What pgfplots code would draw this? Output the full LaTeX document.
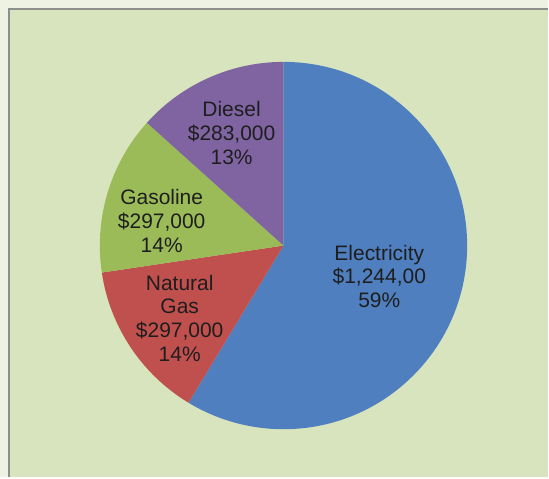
\documentclass[border=0pt]{standalone}
\usepackage{fontspec}
\setmainfont{Liberation Sans}
\usepackage{pgfplots}
\pgfplotsset{compat=1.18}
\usepackage{pgfplotstable}

\definecolor{bg}{HTML}{D8E4BE}
\definecolor{outerc}{HTML}{EDF2E3}
\definecolor{framec}{HTML}{8E8E8E}
\definecolor{elec}{HTML}{4F7FBF}
\definecolor{ngas}{HTML}{C0504D}
\definecolor{gasol}{HTML}{9BBB59}
\definecolor{diesel}{HTML}{8064A2}
\definecolor{txt}{HTML}{1E1E1E}

% values in thousands of dollars
\pgfplotstableread{
label value
Electricity 1244
NaturalGas 297
Gasoline 297
Diesel 283
}\piedata

\pgfplotstablegetelem{0}{value}\of\piedata \let\vA\pgfplotsretval
\pgfplotstablegetelem{1}{value}\of\piedata \let\vB\pgfplotsretval
\pgfplotstablegetelem{2}{value}\of\piedata \let\vC\pgfplotsretval
\pgfplotstablegetelem{3}{value}\of\piedata \let\vD\pgfplotsretval
\pgfmathsetmacro\tot{\vA+\vB+\vC+\vD}
\pgfmathsetmacro\aA{90}
\pgfmathsetmacro\aB{\aA-\vA/\tot*360}
\pgfmathsetmacro\aC{\aB-\vB/\tot*360}
\pgfmathsetmacro\aD{\aC-\vC/\tot*360}
\pgfmathsetmacro\aE{\aD-\vD/\tot*360}

\begin{document}
\begin{tikzpicture}
\begin{axis}[width=549pt,height=478pt,scale only axis,
  xmin=0,xmax=549,ymin=0,ymax=478,hide axis,clip=false]
\fill[outerc] (axis cs:0,0) rectangle (axis cs:549,478);
\fill[bg] (axis cs:9,0) rectangle (axis cs:549,469);
\draw[framec,line width=2pt] (axis cs:9,0) -- (axis cs:9,469) -- (axis cs:549,469);
\def\cx{284}\def\cy{232}\def\rr{184pt}
\fill[elec] (axis cs:\cx,\cy) -- ++(\aA:\rr) arc[start angle=\aA,end angle=\aB,radius=\rr] -- cycle;
\fill[ngas] (axis cs:\cx,\cy) -- ++(\aB:\rr) arc[start angle=\aB,end angle=\aC,radius=\rr] -- cycle;
\fill[gasol] (axis cs:\cx,\cy) -- ++(\aC:\rr) arc[start angle=\aC,end angle=\aD,radius=\rr] -- cycle;
\fill[diesel] (axis cs:\cx,\cy) -- ++(\aD:\rr) arc[start angle=\aD,end angle=\aE,radius=\rr] -- cycle;
\tikzset{lab/.style={align=center,text=txt,font=\fontsize{21}{24}\selectfont,inner sep=0pt}}
\node[lab] at (axis cs:380,201) {Electricity\\\$1,244,00\\59\%};
\node[lab] at (axis cs:180,159) {Natural\\Gas\\\$297,000\\14\%};
\node[lab] at (axis cs:162,257) {Gasoline\\\$297,000\\14\%};
\node[lab] at (axis cs:232,345) {Diesel\\\$283,000\\13\%};
\end{axis}
\end{tikzpicture}
\end{document}
